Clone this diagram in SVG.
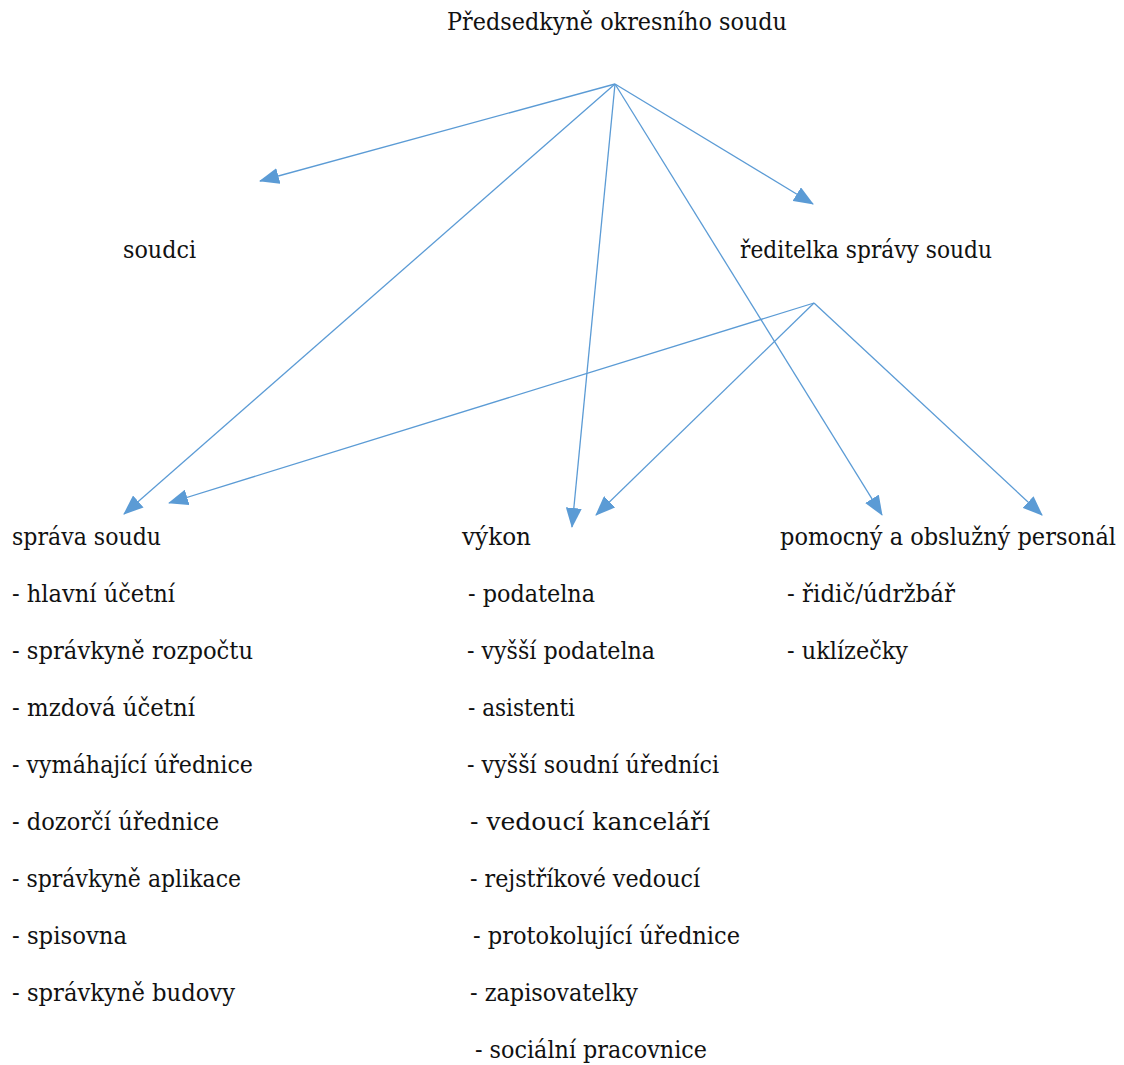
<svg xmlns="http://www.w3.org/2000/svg" width="1124" height="1065" viewBox="0 0 1124 1065">
<style>
.t{font-family:'DejaVu Serif','Liberation Serif',serif;font-size:24px;fill:#111;}
.c line{stroke:#5b9bd5;stroke-width:1.3;fill:none;}
</style>
<defs>
<marker id="ah" viewBox="0 0 20 16" refX="19" refY="8" markerWidth="20" markerHeight="16" markerUnits="userSpaceOnUse" orient="auto">
<path d="M0,0 L20,8 L0,16 Z" fill="#5b9bd5"/>
</marker>
</defs>
<rect width="1124" height="1065" fill="#fff"/>
<g class="c" id="connectors">
<line x1="615" y1="84" x2="260" y2="181" marker-end="url(#ah)"/>
<line x1="615" y1="84" x2="813" y2="204" marker-end="url(#ah)"/>
<line x1="615" y1="84" x2="124" y2="514" marker-end="url(#ah)"/>
<line x1="615" y1="84" x2="572" y2="527" marker-end="url(#ah)"/>
<line x1="615" y1="84" x2="882" y2="515" marker-end="url(#ah)"/>
<line x1="814" y1="303" x2="169" y2="503" marker-end="url(#ah)"/>
<line x1="814" y1="303" x2="596" y2="515" marker-end="url(#ah)"/>
<line x1="814" y1="303" x2="1042" y2="515" marker-end="url(#ah)"/>
</g>
<g class="t">
<g id="predsedkyne"><text x="447" y="30" textLength="340" lengthAdjust="spacingAndGlyphs">Předsedkyně okresního soudu</text></g>
<g id="soudci"><text x="123" y="258" textLength="73" lengthAdjust="spacingAndGlyphs">soudci</text></g>
<g id="reditelka"><text x="740" y="258" textLength="252" lengthAdjust="spacingAndGlyphs">ředitelka správy soudu</text></g>
<g id="sprava">
<text x="12" y="545" textLength="149" lengthAdjust="spacingAndGlyphs">správa soudu</text>
<text x="12" y="602" textLength="163" lengthAdjust="spacingAndGlyphs">- hlavní účetní</text>
<text x="12" y="659" textLength="241" lengthAdjust="spacingAndGlyphs">- správkyně rozpočtu</text>
<text x="12" y="716" textLength="183" lengthAdjust="spacingAndGlyphs">- mzdová účetní</text>
<text x="12" y="773" textLength="241" lengthAdjust="spacingAndGlyphs">- vymáhající úřednice</text>
<text x="12" y="830" textLength="207" lengthAdjust="spacingAndGlyphs">- dozorčí úřednice</text>
<text x="12" y="887" textLength="229" lengthAdjust="spacingAndGlyphs">- správkyně aplikace</text>
<text x="12" y="944" textLength="115" lengthAdjust="spacingAndGlyphs">- spisovna</text>
<text x="12" y="1001" textLength="223" lengthAdjust="spacingAndGlyphs">- správkyně budovy</text>
</g>
<g id="vykon">
<text x="462" y="545" textLength="69" lengthAdjust="spacingAndGlyphs">výkon</text>
<text x="468" y="602" textLength="127" lengthAdjust="spacingAndGlyphs">- podatelna</text>
<text x="467" y="659" textLength="188" lengthAdjust="spacingAndGlyphs">- vyšší podatelna</text>
<text x="468" y="716" textLength="107" lengthAdjust="spacingAndGlyphs">- asistenti</text>
<text x="467" y="773" textLength="252" lengthAdjust="spacingAndGlyphs">- vyšší soudní úředníci</text>
<text x="470" y="830" textLength="240" lengthAdjust="spacingAndGlyphs">- vedoucí kanceláří</text>
<text x="470" y="887" textLength="230" lengthAdjust="spacingAndGlyphs">- rejstříkové vedoucí</text>
<text x="473" y="944" textLength="267" lengthAdjust="spacingAndGlyphs">- protokolující úřednice</text>
<text x="470" y="1001" textLength="168" lengthAdjust="spacingAndGlyphs">- zapisovatelky</text>
<text x="475" y="1058" textLength="232" lengthAdjust="spacingAndGlyphs">- sociální pracovnice</text>
</g>
<g id="pomocny">
<text x="780" y="545" textLength="336" lengthAdjust="spacingAndGlyphs">pomocný a obslužný personál</text>
<text x="787" y="602" textLength="168" lengthAdjust="spacingAndGlyphs">- řidič/údržbář</text>
<text x="787" y="659" textLength="121" lengthAdjust="spacingAndGlyphs">- uklízečky</text>
</g>
</g>
</svg>
